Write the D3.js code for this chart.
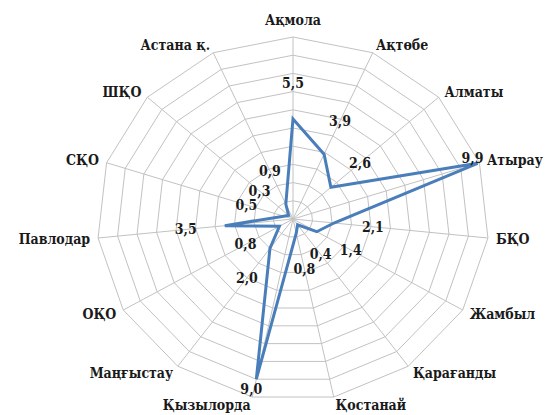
<!DOCTYPE html>
<html>
<head>
<meta charset="utf-8">
<script src="https://cdn.jsdelivr.net/npm/d3@7"></script>
<style>
  body { margin: 0; background: #fff; }
  .grid { fill: none; stroke: #c2c2c2; stroke-width: 1; }
  .spoke { stroke: #c2c2c2; stroke-width: 1; }
  .series { fill: none; stroke: #4a7ebb; stroke-width: 3; stroke-linejoin: miter; }
  text { font-family: "DejaVu Serif Condensed", "DejaVu Serif", serif; font-weight: bold; fill: #1a1a1a; }
  .cat { font-size: 14px; }
  .val { font-size: 14px; }
</style>
</head>
<body>
<svg id="chart" width="550" height="415"></svg>
<script>
// regions, clockwise from the top
const categories = ["Ақмола", "Ақтөбе", "Алматы", "Атырау", "БҚО", "Жамбыл", "Қарағанды",
  "Қостанай", "Қызылорда", "Маңғыстау", "ОҚО", "Павлодар", "СҚО", "ШҚО", "Астана қ."]
const values = [5.5, 3.9, 2.6, 9.9, 2.1, 1.4, 0.4, 0.8, 9.0, 2.0, 0.8, 3.5, 0.5, 0.3, 0.9]
const rings = [1, 2, 3, 4, 5, 6, 7, 8, 9, 10]

const svg = d3.select("#chart")
const cx = 293, cy = 219
const n = categories.length
const max = d3.max(rings)

// the source picture is a bit wider than tall, so two radial scales
const rX = d3.scaleLinear().domain([0, max]).range([0, 196])
const rY = d3.scaleLinear().domain([0, max]).range([0, 182])
const angle = d3.scaleLinear().domain([0, n]).range([0, 2 * Math.PI])

function pos(i, v) {
  const a = angle(i)
  return [cx + rX(v) * Math.sin(a), cy - rY(v) * Math.cos(a)]
}

const line = d3.line()
  .x(d => d[0])
  .y(d => d[1])
  .curve(d3.curveLinearClosed)

// rings
svg.append("g").selectAll("path")
  .data(rings)
  .join("path")
  .attr("class", "grid")
  .attr("d", r => line(categories.map((_, i) => pos(i, r))))

// spokes
svg.append("g").selectAll("line")
  .data(categories)
  .join("line")
  .attr("class", "spoke")
  .attr("x1", cx)
  .attr("y1", cy)
  .attr("x2", (_, i) => pos(i, max)[0])
  .attr("y2", (_, i) => pos(i, max)[1])

// data polygon
svg.append("path")
  .datum(values)
  .attr("class", "series")
  .attr("d", vs => line(vs.map((v, i) => pos(i, v))))

// category labels just outside the outer ring
svg.append("g").selectAll("text")
  .data(categories)
  .join("text")
  .attr("class", "cat")
  .attr("dominant-baseline", "central")
  .attr("text-anchor", (_, i) => {
    const s = Math.sin(angle(i))
    return Math.abs(s) < 0.05 ? "middle" : (s > 0 ? "start" : "end")
  })
  .attr("x", (_, i) => pos(i, max)[0] + 8 * Math.sin(angle(i)))
  .attr("y", (_, i) => {
    const c = Math.cos(angle(i))
    return pos(i, max)[1] - 8 * c - (c > 0.99 ? 9 : 0)
  })
  .text(d => d)

// value labels, two units further out along the spoke
const fmt = d3.formatLocale({ decimal: ",", thousands: " ", grouping: [3], currency: ["", ""] }).format(".1f")

svg.append("g").selectAll("text")
  .data(values)
  .join("text")
  .attr("class", "val")
  .attr("text-anchor", "middle")
  .attr("dominant-baseline", "central")
  .attr("transform", (v, i) => {
    let p
    if (v + 2 <= max) {
      p = pos(i, v + 2)
    } else {
      // no room outside: sit next to the point
      const [x, y] = pos(i, v)
      p = [x - 5, Math.cos(angle(i)) > 0 ? y - 5 : y + 10]
    }
    return "translate(" + p[0] + "," + p[1] + ")"
  })
  .text(fmt)
</script>
</body>
</html>
